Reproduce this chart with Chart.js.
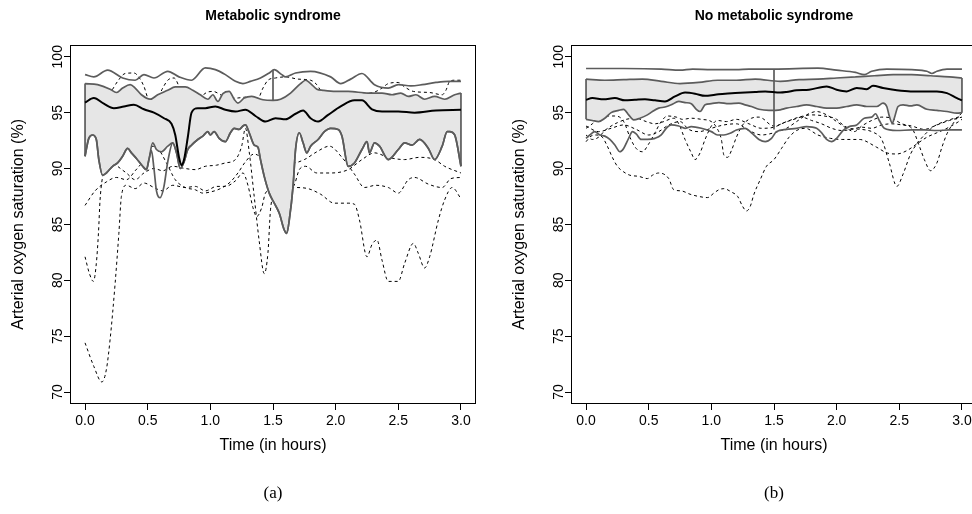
<!DOCTYPE html>
<html><head><meta charset="utf-8">
<script src="https://cdn.jsdelivr.net/npm/chart.js@4.4.1/dist/chart.umd.min.js"></script>
<style>
html,body{margin:0;padding:0;background:#fff;overflow:hidden;width:972px;height:514px;}
#c1{position:absolute;left:0;top:0;width:486px;height:514px;}
#c2{position:absolute;left:486px;top:0;width:500px;height:514px;}
</style></head><body>
<canvas id="c1" width="486" height="514"></canvas>
<canvas id="c2" width="500" height="514"></canvas>
<script>
// ---------- axes ----------
const timeTicks = [0, 0.5, 1, 1.5, 2, 2.5, 3];
const satTicks = [70, 75, 80, 85, 90, 95, 100];
const timeRange = [-0.12, 3.12];
const satRange = [68.93, 101.07];
const xTitle = 'Time (in hours)';
const yTitle = 'Arterial oxygen saturation (%)';

// ---------- (a) Metabolic syndrome ----------
const msTitle = 'Metabolic syndrome';
const msCaption = '(a)';
const msUpperEnvelope = [[0,98.4],[0.07,98.2],[0.18,98.8],[0.3,98.1],[0.4,97.9],[0.47,98.4],[0.55,98.1],[0.66,98.7],[0.75,98.2],[0.85,97.9],[0.96,99.0],[1.04,98.85],[1.12,98.4],[1.2,97.8],[1.26,97.6],[1.32,97.8],[1.4,98.1],[1.47,98.55],[1.51,98.85],[1.57,98.4],[1.6,98.2],[1.68,98.55],[1.8,98.7],[1.96,98.2],[2.04,97.6],[2.12,98.0],[2.21,98.5],[2.31,97.5],[2.42,97.2],[2.5,97.5],[2.6,97.4],[2.69,97.5],[2.8,97.7],[2.9,97.8],[3.0,97.8]];
const msBandUpper = [[0,97.6],[0.1,97.5],[0.2,97.1],[0.25,96.8],[0.3,97.2],[0.36,97.5],[0.4,97.2],[0.45,96.6],[0.52,96.2],[0.58,96.6],[0.66,97.0],[0.72,97.3],[0.8,97.3],[0.86,97.0],[0.92,96.6],[0.98,96.2],[1.02,96.6],[1.06,96.0],[1.1,96.7],[1.15,96.9],[1.19,96.2],[1.22,95.85],[1.27,96.3],[1.33,96.45],[1.42,96.15],[1.5,96.1],[1.56,96.2],[1.64,96.75],[1.72,97.6],[1.76,97.9],[1.8,97.6],[1.85,97.1],[1.9,97.0],[2.0,96.9],[2.1,96.9],[2.26,96.75],[2.37,96.75],[2.45,96.6],[2.52,96.75],[2.58,96.45],[2.64,96.6],[2.71,96.2],[2.79,96.45],[2.87,96.2],[2.95,96.6],[3.0,96.75]];
const msMedian = [[0,95.9],[0.07,96.3],[0.15,95.8],[0.23,95.4],[0.31,95.55],[0.39,95.7],[0.47,95.3],[0.55,95.0],[0.63,94.5],[0.69,94.0],[0.72,93.0],[0.75,91.0],[0.77,90.3],[0.79,90.8],[0.82,92.8],[0.85,95.0],[0.9,95.4],[0.96,95.4],[1.04,95.55],[1.12,95.26],[1.2,95.1],[1.28,95.26],[1.36,94.7],[1.44,94.2],[1.52,94.5],[1.6,94.4],[1.68,94.9],[1.74,95.2],[1.8,94.5],[1.86,94.2],[1.94,94.8],[2.04,95.55],[2.15,96.1],[2.21,96.1],[2.29,95.3],[2.37,95.1],[2.5,95.1],[2.63,95.0],[2.8,95.2],[3.0,95.25]];
const msBandLower = [[0,91.1],[0.03,92.7],[0.06,93.0],[0.09,92.6],[0.11,90.8],[0.14,89.4],[0.17,89.6],[0.22,90.2],[0.26,90.5],[0.3,91.1],[0.34,91.8],[0.37,91.4],[0.41,90.9],[0.46,90.2],[0.49,89.9],[0.51,90.8],[0.54,92.3],[0.57,91.7],[0.61,91.5],[0.66,92.0],[0.7,92.3],[0.73,91.4],[0.76,90.0],[0.79,90.6],[0.82,91.7],[0.85,92.1],[0.9,92.6],[0.94,92.9],[0.98,93.3],[1.0,93.0],[1.03,93.3],[1.07,92.7],[1.12,92.4],[1.16,93.2],[1.19,93.6],[1.23,93.5],[1.26,93.8],[1.28,93.9],[1.31,93.2],[1.35,92.1],[1.38,91.9],[1.4,90.8],[1.43,89.3],[1.47,87.8],[1.51,86.9],[1.55,86.0],[1.59,84.5],[1.61,84.2],[1.63,85.4],[1.66,88.4],[1.68,91.7],[1.71,93.2],[1.74,92.3],[1.77,91.4],[1.8,92.0],[1.86,92.6],[1.91,93.3],[1.96,93.6],[2.02,93.5],[2.05,92.9],[2.1,90.2],[2.15,90.5],[2.21,91.7],[2.25,92.4],[2.27,91.4],[2.31,92.3],[2.35,92.0],[2.42,90.8],[2.5,91.7],[2.55,92.3],[2.61,92.1],[2.67,92.6],[2.74,91.8],[2.79,90.8],[2.85,92.0],[2.89,93.3],[2.91,93.3],[2.95,93.0],[3.0,90.2]];
const msLowerEnvelope = [[0,91.1],[0.03,92.7],[0.06,93.0],[0.09,92.6],[0.11,90.8],[0.14,89.4],[0.17,89.6],[0.22,90.2],[0.26,90.5],[0.3,91.1],[0.34,91.8],[0.37,91.4],[0.41,90.9],[0.46,90.2],[0.49,89.9],[0.51,90.8],[0.53,91.6],[0.55,90.0],[0.57,88.0],[0.6,87.4],[0.63,88.4],[0.66,90.6],[0.7,92.3],[0.73,91.4],[0.76,90.0],[0.79,90.6],[0.82,91.7],[0.85,92.1],[0.9,92.6],[0.94,92.9],[0.98,93.3],[1.0,93.0],[1.03,93.3],[1.07,92.7],[1.12,92.4],[1.16,93.2],[1.19,93.6],[1.23,93.5],[1.26,93.8],[1.28,93.9],[1.31,93.2],[1.35,92.1],[1.38,91.9],[1.4,90.8],[1.43,89.3],[1.47,87.8],[1.51,86.9],[1.55,86.0],[1.59,84.5],[1.61,84.2],[1.63,85.4],[1.66,88.4],[1.68,91.7],[1.71,93.2],[1.74,92.3],[1.77,91.4],[1.8,92.0],[1.86,92.6],[1.91,93.3],[1.96,93.6],[2.02,93.5],[2.05,92.9],[2.1,90.2],[2.15,90.5],[2.21,91.7],[2.25,92.4],[2.27,91.4],[2.31,92.3],[2.35,92.0],[2.42,90.8],[2.5,91.7],[2.55,92.3],[2.61,92.1],[2.67,92.6],[2.74,91.8],[2.79,90.8],[2.85,92.0],[2.89,93.3],[2.91,93.3],[2.95,93.0],[3.0,90.2]];
const msWhisker = [[1.5,98.8],[1.5,96.1]];
const msOutlier1 = [[0,74.4],[0.07,72.3],[0.134,70.9],[0.17,72.0],[0.2,74.7],[0.24,79.7],[0.27,84.2],[0.29,87.5],[0.33,88.5],[0.4,88.2],[0.47,88.7],[0.55,88.3],[0.62,88.0],[0.7,88.5],[0.8,88.3],[0.88,88.4],[0.96,88.0],[1.05,88.4],[1.12,88.4],[1.2,88.9],[1.26,89.6],[1.3,88.5],[1.34,86.5],[1.37,85.7],[1.41,86.5],[1.44,87.8],[1.52,88.3],[1.6,88.0],[1.67,88.3],[1.78,88.2],[1.88,87.7],[1.99,86.9],[2.1,86.9],[2.15,86.8],[2.19,85.4],[2.25,82.1],[2.29,83.2],[2.33,83.6],[2.37,81.8],[2.42,79.9],[2.5,79.9],[2.55,81.5],[2.62,83.3],[2.66,82.4],[2.71,81.1],[2.75,82.1],[2.82,85.4],[2.87,87.2],[2.93,88.3],[3.0,87.3]];
const msOutlier2 = [[0,82.1],[0.035,80.6],[0.067,79.9],[0.09,81.5],[0.107,84.2],[0.12,87.2],[0.15,89.8],[0.2,90.8],[0.26,90.2],[0.33,89.6],[0.4,89.0],[0.47,89.6],[0.55,90.0],[0.62,89.8],[0.7,90.2],[0.8,90.0],[0.88,89.9],[0.96,90.2],[1.05,90.3],[1.12,90.5],[1.2,90.8],[1.25,92.0],[1.28,93.6],[1.31,91.5],[1.35,87.5],[1.39,83.5],[1.43,80.6],[1.46,82.5],[1.48,86.3],[1.52,88.0],[1.6,88.6],[1.66,88.4],[1.71,89.9],[1.76,90.2],[1.85,89.6],[1.96,89.6],[2.1,89.9],[2.21,90.8],[2.31,91.4],[2.42,91.0],[2.55,90.8],[2.67,91.0],[2.79,90.8],[2.87,90.2],[3.0,89.6]];
const msOutlier3 = [[0,86.7],[0.08,88.0],[0.17,88.8],[0.25,89.2],[0.33,89.0],[0.4,89.8],[0.47,90.8],[0.52,92.0],[0.58,91.8],[0.65,90.5],[0.72,89.0],[0.8,88.3],[0.88,88.1],[0.94,87.8],[1.0,87.9],[1.08,88.2],[1.16,88.8],[1.22,89.6],[1.28,90.6],[1.35,91.3],[1.42,91.0],[1.5,91.5],[1.58,91.0],[1.66,90.5],[1.75,90.8],[1.85,91.5],[1.95,92.0],[2.05,91.0],[2.15,89.5],[2.23,88.3],[2.32,88.5],[2.42,88.3],[2.5,87.8],[2.58,89.0],[2.63,89.2],[2.74,88.6],[2.85,88.3],[2.92,89.1],[3.0,89.2]];
const msOutlier4 = [[0,96.6],[0.1,96.4],[0.2,96.8],[0.26,97.8],[0.32,98.5],[0.39,98.55],[0.44,98.0],[0.47,97.35],[0.51,96.2],[0.57,96.2],[0.62,97.2],[0.66,97.9],[0.71,98.1],[0.77,96.8],[0.82,95.9],[0.9,96.2],[0.97,96.8],[1.02,96.9],[1.1,96.5],[1.2,96.3],[1.3,96.4],[1.38,96.3],[1.42,97.2],[1.46,97.9],[1.52,98.1],[1.6,98.2],[1.7,98.0],[1.8,97.9],[1.85,97.5],[1.9,96.7],[2.0,96.5],[2.1,96.6],[2.2,96.7],[2.3,96.8],[2.37,97.2],[2.42,97.6],[2.5,97.7],[2.55,97.3],[2.62,96.9],[2.75,96.8],[2.85,96.6],[2.88,97.0],[2.91,97.8],[2.95,97.9],[3.0,97.9]];

// ---------- (b) No metabolic syndrome ----------
const nmsTitle = 'No metabolic syndrome';
const nmsCaption = '(b)';
const nmsUpperEnvelope = [[0,98.95],[0.3,98.95],[0.6,98.9],[0.75,98.8],[0.85,98.9],[1.0,98.85],[1.2,98.85],[1.3,98.9],[1.5,98.9],[1.85,98.98],[2.0,98.8],[2.15,98.6],[2.22,98.4],[2.28,98.7],[2.4,98.9],[2.6,98.85],[2.72,98.7],[2.76,98.5],[2.8,98.7],[2.88,98.9],[3.0,98.9]];
const nmsBandUpper = [[0,98.0],[0.15,97.9],[0.3,97.95],[0.45,98.0],[0.6,97.8],[0.75,97.6],[0.9,97.7],[1.05,97.9],[1.2,97.9],[1.35,98.0],[1.55,97.8],[1.7,97.95],[1.85,98.0],[2.0,98.1],[2.15,98.2],[2.3,98.3],[2.45,98.4],[2.6,98.4],[2.75,98.3],[2.9,98.2],[3.0,98.1]];
const nmsMedian = [[0,96.15],[0.05,96.3],[0.14,96.2],[0.23,96.3],[0.31,96.1],[0.39,96.15],[0.47,96.2],[0.55,96.1],[0.63,96.0],[0.71,96.45],[0.79,96.8],[0.87,96.7],[0.95,96.5],[1.03,96.6],[1.11,96.7],[1.19,96.75],[1.27,96.8],[1.35,96.85],[1.43,96.9],[1.55,96.8],[1.6,96.85],[1.68,97.0],[1.78,97.05],[1.92,97.35],[2.0,97.05],[2.08,96.9],[2.16,97.2],[2.24,97.1],[2.29,97.4],[2.37,97.2],[2.48,97.0],[2.59,96.9],[2.69,96.9],[2.8,96.9],[2.88,96.75],[2.96,96.3],[3.0,96.1]];
const nmsBandLower = [[0,94.4],[0.05,94.3],[0.1,94.2],[0.15,94.5],[0.2,95.0],[0.26,95.2],[0.3,95.3],[0.34,94.8],[0.38,94.35],[0.43,94.5],[0.49,94.8],[0.53,95.1],[0.58,95.4],[0.63,95.5],[0.68,95.7],[0.74,96.0],[0.79,95.9],[0.84,95.8],[0.88,95.3],[0.91,95.1],[0.95,95.7],[1.0,95.8],[1.06,95.9],[1.14,95.8],[1.22,95.85],[1.27,95.7],[1.32,95.55],[1.38,95.3],[1.46,95.2],[1.55,95.25],[1.6,95.4],[1.68,95.55],[1.76,95.7],[1.84,95.55],[1.92,95.4],[2.0,95.4],[2.08,95.55],[2.16,95.7],[2.24,95.55],[2.32,95.55],[2.37,95.85],[2.4,95.55],[2.42,94.7],[2.445,94.06],[2.46,94.5],[2.49,95.55],[2.53,95.7],[2.59,95.6],[2.64,95.7],[2.72,95.3],[2.8,95.2],[2.88,95.1],[2.96,94.96],[3.0,95.0]];
const nmsLowerEnvelope = [[0,92.7],[0.03,93.0],[0.07,93.3],[0.11,93.0],[0.15,92.9],[0.19,92.6],[0.23,92.1],[0.27,91.5],[0.3,91.8],[0.34,92.7],[0.37,93.3],[0.4,93.1],[0.44,92.6],[0.49,92.6],[0.55,92.7],[0.6,93.0],[0.64,93.6],[0.68,93.9],[0.74,93.8],[0.79,93.6],[0.84,93.75],[0.92,93.6],[1.0,93.3],[1.05,93.0],[1.1,93.0],[1.15,93.15],[1.2,93.45],[1.27,93.6],[1.32,93.2],[1.38,92.6],[1.43,92.4],[1.48,92.7],[1.52,93.3],[1.6,93.5],[1.68,93.6],[1.76,93.75],[1.84,93.6],[1.88,93.2],[1.92,92.6],[1.96,92.4],[2.0,92.7],[2.05,93.4],[2.1,93.75],[2.16,93.9],[2.22,94.5],[2.28,94.6],[2.31,94.9],[2.34,94.3],[2.38,93.6],[2.48,93.4],[2.6,93.45],[2.7,93.45],[2.8,93.4],[2.9,93.45],[3.0,93.45]];
const nmsWhisker = [[1.5,98.9],[1.5,93.5]];
const nmsOutlier1 = [[0,92.4],[0.04,92.9],[0.08,93.0],[0.13,92.8],[0.17,92.0],[0.21,91.0],[0.25,90.2],[0.3,89.7],[0.35,89.4],[0.42,89.3],[0.49,89.1],[0.53,89.4],[0.58,89.6],[0.66,89.1],[0.7,88.1],[0.76,88.0],[0.83,87.7],[0.9,87.5],[0.97,87.4],[1.02,87.8],[1.06,88.1],[1.1,88.2],[1.16,87.9],[1.21,87.5],[1.25,86.6],[1.28,86.2],[1.31,86.6],[1.34,87.7],[1.39,89.0],[1.44,90.2],[1.5,90.8],[1.56,91.8],[1.62,92.8],[1.68,93.4],[1.75,93.6],[1.85,93.0],[1.95,92.7],[2.05,92.6],[2.18,92.6],[2.32,91.9],[2.4,91.4],[2.48,91.3],[2.56,91.6],[2.64,92.2],[2.72,92.8],[2.8,93.2],[2.88,93.6],[2.96,94.1],[3.0,94.4]];
const nmsOutlier2 = [[0,93.6],[0.05,94.0],[0.1,94.5],[0.16,94.7],[0.23,94.7],[0.28,94.5],[0.31,94.0],[0.35,92.8],[0.4,91.8],[0.45,91.5],[0.5,92.2],[0.55,93.2],[0.6,94.2],[0.65,94.7],[0.72,94.6],[0.77,94.4],[0.84,94.5],[0.92,94.4],[1.0,94.2],[1.04,93.7],[1.08,92.6],[1.1,91.2],[1.13,91.0],[1.16,91.6],[1.2,92.8],[1.25,93.9],[1.32,94.5],[1.38,94.6],[1.42,94.4],[1.46,94.0],[1.5,93.8],[1.6,94.2],[1.7,94.6],[1.8,94.8],[1.9,94.7],[2.0,94.4],[2.05,93.9],[2.1,93.6],[2.2,93.5],[2.3,93.2],[2.36,92.6],[2.42,90.5],[2.48,88.4],[2.53,89.5],[2.59,91.3],[2.64,92.2],[2.7,93.0],[2.78,93.8],[2.86,94.2],[2.94,94.5],[3.0,94.7]];
const nmsOutlier3 = [[0,93.0],[0.05,92.6],[0.1,92.8],[0.15,93.4],[0.2,93.8],[0.25,94.1],[0.32,94.4],[0.4,94.5],[0.48,94.2],[0.55,94.0],[0.62,94.2],[0.7,94.5],[0.74,94.0],[0.79,92.6],[0.84,91.4],[0.87,90.8],[0.91,91.4],[0.95,92.6],[1.0,93.8],[1.05,94.3],[1.12,94.2],[1.2,94.4],[1.3,94.0],[1.4,93.6],[1.5,93.7],[1.58,94.1],[1.66,94.4],[1.72,94.6],[1.8,94.3],[1.88,94.0],[1.96,93.6],[2.04,93.4],[2.12,93.5],[2.2,93.7],[2.28,93.6],[2.36,93.9],[2.44,94.0],[2.52,93.9],[2.6,93.6],[2.66,92.0],[2.7,90.8],[2.75,89.8],[2.8,90.5],[2.84,91.9],[2.88,93.1],[2.94,94.2],[3.0,95.0]];
const nmsOutlier4 = [[0,93.8],[0.1,93.3],[0.2,93.6],[0.3,93.9],[0.4,93.5],[0.5,93.0],[0.58,93.3],[0.66,93.9],[0.75,94.2],[0.82,93.5],[0.9,93.3],[1.0,93.6],[1.1,93.9],[1.2,94.0],[1.3,93.4],[1.4,93.0],[1.5,93.2],[1.6,93.6],[1.68,94.2],[1.76,94.8],[1.84,95.1],[1.92,94.8],[2.0,94.2],[2.08,93.6],[2.14,93.3],[2.2,93.8],[2.28,94.3],[2.36,94.6],[2.44,94.5],[2.52,94.0],[2.6,93.8],[2.7,93.5],[2.8,93.9],[2.9,94.3],[3.0,94.6]];

// ---------- rendering ----------
const GRAY = '#5c5c5c';
const FILL = '#e6e6e6';
const FONT = "'Liberation Sans', Arial, Helvetica, sans-serif";
const SERIF = "'Liberation Serif', 'DejaVu Serif', serif";

const pts = a => a.map(p => ({x: p[0], y: p[1]}));
function curve(data, color, width, dash, order, extra) {
  return Object.assign({data: pts(data), borderColor: color, borderWidth: width, borderDash: dash || [],
    pointRadius: 0, pointHoverRadius: 0, fill: false, cubicInterpolationMode: 'monotone', order: order}, extra || {});
}
function segment(data, color, width, order) {
  return {data: pts(data), borderColor: color, borderWidth: width, pointRadius: 0, pointHoverRadius: 0,
    fill: false, tension: 0, order: order};
}

const boxPlugin = {
  id: 'plotBox',
  afterDatasetsDraw(chart) {
    const a = chart.chartArea, ctx = chart.ctx;
    ctx.save();
    ctx.strokeStyle = '#000';
    ctx.lineWidth = 1;
    ctx.strokeRect(Math.round(a.left) + 0.5, Math.round(a.top) + 0.5,
      Math.round(a.right - a.left) - 1, Math.round(a.bottom - a.top) - 1);
    ctx.restore();
  }
};

function panel(id, p) {
  const ds = [];
  p.outliers.forEach(o => ds.push(curve(o, '#000', 1, [3, 3], 5)));
  const iLow = ds.length;
  ds.push(curve(p.bandLower, GRAY, 1.7, null, 4));
  ds.push(curve(p.bandUpper, GRAY, 1.7, null, 4, {fill: {target: iLow, above: FILL, below: FILL}, backgroundColor: FILL}));
  const first = [[p.bandUpper[0][0], p.bandUpper[0][1]], [p.bandLower[0][0], p.bandLower[0][1]]];
  const nU = p.bandUpper.length - 1, nL = p.bandLower.length - 1;
  const last = [[p.bandUpper[nU][0], p.bandUpper[nU][1]], [p.bandLower[nL][0], p.bandLower[nL][1]]];
  ds.push(segment(first, GRAY, 1.7, 2));
  ds.push(segment(last, GRAY, 1.7, 2));
  ds.push(segment(p.whisker, GRAY, 1.7, 2));
  ds.push(curve(p.upperEnv, GRAY, 1.7, null, 2));
  ds.push(curve(p.lowerEnv, GRAY, 1.7, null, 2));
  ds.push(curve(p.median, '#000', 2, null, 1));

  const tickGrid = {drawOnChartArea: false, drawTicks: true, tickLength: 6, color: '#000', lineWidth: 1};
  return new Chart(document.getElementById(id), {
    type: 'line',
    data: {datasets: ds},
    plugins: [boxPlugin],
    options: {
      responsive: false, animation: false, devicePixelRatio: 1,
      parsing: false, normalized: true,
      layout: {padding: {left: p.padLeft, right: p.padRight, top: 0, bottom: 0}},
      events: [],
      plugins: {
        legend: {display: false}, tooltip: {enabled: false},
        title: {display: true, text: p.title, fullSize: false, color: '#000',
          font: {family: FONT, size: 14, weight: 'bold', lineHeight: 1.2}, padding: {top: 8, bottom: 20}},
        subtitle: {display: true, text: p.caption, position: 'bottom', fullSize: false, color: '#000',
          font: {family: SERIF, size: 17, lineHeight: 1.2}, padding: {top: 5, bottom: 10}}
      },
      scales: {
        x: {
          type: 'linear', min: timeRange[0], max: timeRange[1],
          afterBuildTicks: s => { s.ticks = timeTicks.map(v => ({value: v})); },
          afterFit: s => { s.height = 74.6; },
          ticks: {callback: v => Number(v).toFixed(1), color: '#000', font: {family: FONT, size: 14}, padding: 3, maxRotation: 0, autoSkip: false},
          grid: tickGrid, border: {display: false},
          title: {display: true, text: xTitle, color: '#000', font: {family: FONT, size: 16}, padding: {top: 0, bottom: 23}}
        },
        y: {
          type: 'linear', min: satRange[0], max: satRange[1],
          afterBuildTicks: s => { s.ticks = satTicks.map(v => ({value: v})); },
          afterFit: s => { s.width = 70; },
          ticks: {callback: v => String(v), color: '#000', font: {family: FONT, size: 14}, minRotation: 90, maxRotation: 90, crossAlign: 'center', padding: -5.5, autoSkip: false},
          grid: tickGrid, border: {display: false},
          title: {display: true, text: yTitle, color: '#000', font: {family: FONT, size: 16}, padding: {top: 9, bottom: 0}}
        }
      }
    }
  });
}

panel('c1', {title: msTitle, caption: msCaption, upperEnv: msUpperEnvelope, bandUpper: msBandUpper, median: msMedian,
  bandLower: msBandLower, lowerEnv: msLowerEnvelope, whisker: msWhisker,
  outliers: [msOutlier1, msOutlier2, msOutlier3, msOutlier4], padLeft: 0, padRight: 10});
panel('c2', {title: nmsTitle, caption: nmsCaption, upperEnv: nmsUpperEnvelope, bandUpper: nmsBandUpper, median: nmsMedian,
  bandLower: nmsBandLower, lowerEnv: nmsLowerEnvelope, whisker: nmsWhisker,
  outliers: [nmsOutlier1, nmsOutlier2, nmsOutlier3, nmsOutlier4], padLeft: 15, padRight: 9});
</script>
</body></html>
